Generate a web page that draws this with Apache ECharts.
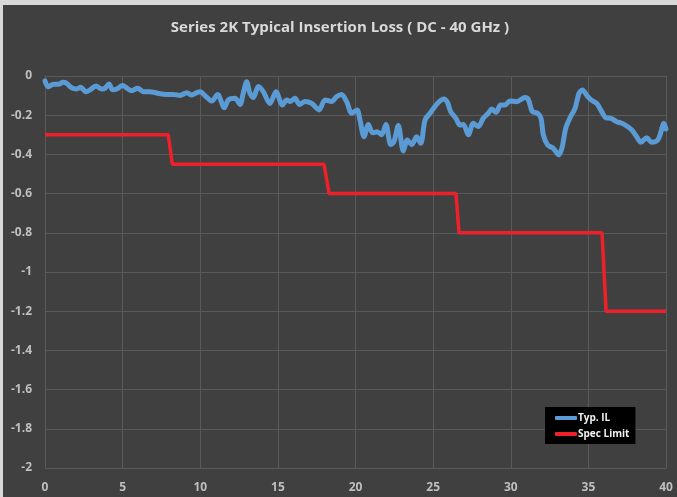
<!DOCTYPE html>
<html>
<head>
<meta charset="utf-8">
<script src="https://cdn.jsdelivr.net/npm/echarts@6/dist/echarts.min.js"></script>
<style>
  html, body { margin: 0; padding: 0; background: #d9d9d9; width: 677px; height: 497px; overflow: hidden; }
  #chart { position: absolute; left: 3px; top: 5px; width: 674px; height: 492px; }
</style>
</head>
<body>
<div id="chart"></div>
<script>
// ---- Data ----
const titleText = 'Series 2K Typical Insertion Loss ( DC - 40 GHz )';
const seriesNames = ['Typ. IL', 'Spec Limit'];

// Typ. IL curve (GHz, dB)
const ilFreq = [0, 0.2, 0.54, 0.86, 1.18, 1.39, 1.72, 2.04, 2.3, 2.64, 2.9, 3.28, 3.65, 3.86, 4.12, 4.36, 4.62,
  5.0, 5.3, 5.58, 5.97, 6.33, 6.76, 7.19, 7.84, 8.27, 8.7, 9.13, 9.45, 9.77, 10.0, 10.3, 10.74, 11.12, 11.55,
  11.81, 12.24, 12.56, 12.77, 12.99, 13.2, 13.42, 13.74, 14.06, 14.49, 14.88, 15.29, 15.57, 15.8, 16.1, 16.4,
  16.75, 17.18, 17.65, 18.04, 18.47, 18.79, 19.1, 19.43, 19.76, 20.1, 20.29, 20.55, 20.83, 21.1, 21.4, 21.68,
  21.96, 22.27, 22.48, 22.76, 23.08, 23.34, 23.62, 23.94, 24.2, 24.48, 24.8, 25.27, 25.7, 25.92, 26.13, 26.47,
  26.73, 26.95, 27.27, 27.59, 27.91, 28.23, 28.55, 28.77, 29.05, 29.35, 29.63, 29.95, 30.38, 30.92, 31.13,
  31.39, 31.73, 31.95, 32.1, 32.38, 32.74, 33.1, 33.32, 33.54, 33.82, 34.14, 34.4, 34.61, 34.96, 35.25, 35.54,
  35.86, 36.12, 36.46, 36.82, 37.15, 37.47, 37.79, 38.11, 38.39, 38.76, 39.08, 39.46, 39.68, 39.85, 40.0];
const ilValue = [-0.025, -0.055, -0.042, -0.042, -0.032, -0.037, -0.06, -0.066, -0.058, -0.08, -0.071, -0.051,
  -0.066, -0.063, -0.041, -0.07, -0.066, -0.049, -0.063, -0.075, -0.063, -0.08, -0.08, -0.087, -0.094, -0.094,
  -0.099, -0.085, -0.097, -0.085, -0.08, -0.1, -0.128, -0.094, -0.162, -0.122, -0.114, -0.145, -0.088, -0.029,
  -0.088, -0.11, -0.054, -0.08, -0.14, -0.08, -0.148, -0.122, -0.13, -0.114, -0.145, -0.13, -0.14, -0.173,
  -0.122, -0.13, -0.105, -0.094, -0.131, -0.19, -0.173, -0.225, -0.31, -0.247, -0.29, -0.284, -0.30, -0.247,
  -0.35, -0.335, -0.253, -0.383, -0.327, -0.35, -0.31, -0.343, -0.224, -0.19, -0.14, -0.117, -0.134, -0.182,
  -0.216, -0.25, -0.247, -0.30, -0.241, -0.258, -0.216, -0.19, -0.168, -0.185, -0.148, -0.148, -0.127, -0.131,
  -0.11, -0.12, -0.182, -0.19, -0.216, -0.30, -0.352, -0.369, -0.403, -0.36, -0.267, -0.213, -0.165, -0.088,
  -0.071, -0.105, -0.126, -0.14, -0.182, -0.213, -0.216, -0.233, -0.241, -0.255, -0.275, -0.31, -0.338,
  -0.315, -0.338, -0.327, -0.284, -0.241, -0.27];

// Spec Limit step line
const specFreq = [0, 7.94, 8.2, 17.97, 18.3, 26.47, 26.67, 35.88, 36.14, 40];
const specValue = [-0.3, -0.3, -0.45, -0.45, -0.6, -0.6, -0.8, -0.8, -1.2, -1.2];

// Axis ticks
const xMin = 0, xMax = 40, xStep = 5;
const yMin = -2, yMax = 0, yStep = 0.2;

// ---- Chart ----
const zip = (a, b) => a.map((v, i) => [v, b[i]]);
const chart = echarts.init(document.getElementById('chart'), null, { renderer: 'canvas' });
const fontFam = "'Open Sans', 'Liberation Sans', sans-serif";
const gridColor = '#5a5a5a';
const labelColor = '#bfbfbf';

chart.setOption({
  backgroundColor: '#404040',
  animation: false,
  title: {
    text: titleText,
    left: 'center',
    top: 10,
    textStyle: { color: '#d9d9d9', fontSize: 15, fontWeight: 'bold', fontFamily: fontFam }
  },
  grid: { left: 42, right: 11, top: 71, bottom: 29, containLabel: false },
  xAxis: {
    type: 'value', min: xMin, max: xMax, interval: xStep,
    axisLine: { show: true, lineStyle: { color: gridColor } },
    axisTick: { show: false },
    splitLine: { show: true, lineStyle: { color: gridColor, width: 1 } },
    axisLabel: { color: labelColor, fontSize: 12, fontWeight: 'bold', fontFamily: fontFam, margin: 14 }
  },
  yAxis: {
    type: 'value', min: yMin, max: yMax, interval: yStep,
    axisLine: { show: true, lineStyle: { color: gridColor } },
    axisTick: { show: false },
    splitLine: { show: true, lineStyle: { color: gridColor, width: 1 } },
    axisLabel: {
      color: labelColor, fontSize: 12, fontWeight: 'bold', fontFamily: fontFam, margin: 13,
      formatter: v => String(+v.toFixed(1))
    }
  },
  legend: {
    orient: 'vertical',
    left: 542, top: 402,
    backgroundColor: '#000000',
    padding: [6, 6, 5, 10],
    itemGap: 6,
    itemWidth: 22, itemHeight: 4,
    icon: 'roundRect',
    textStyle: { color: '#f2f2f2', fontSize: 10, fontWeight: 'bold', fontFamily: fontFam, padding: [0, 0, 0, -4] },
    data: seriesNames
  },
  series: [
    {
      name: seriesNames[1], type: 'line', data: zip(specFreq, specValue),
      showSymbol: false, symbol: 'none',
      lineStyle: { color: '#f0202a', width: 3.5 }, itemStyle: { color: '#f0202a' }, z: 2
    },
    {
      name: seriesNames[0], type: 'line', data: zip(ilFreq, ilValue),
      showSymbol: false, symbol: 'none', smooth: 0.3,
      lineStyle: { color: '#5b9bd5', width: 5, cap: 'round', join: 'round' }, itemStyle: { color: '#5b9bd5' }, z: 3
    }
  ]
});
</script>
</body>
</html>
